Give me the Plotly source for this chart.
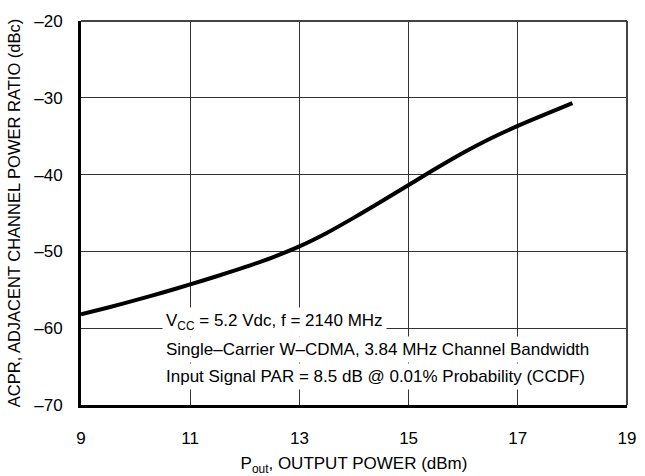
import plotly.graph_objects as go

# ACPR versus output power (single-carrier W-CDMA)
pout_dbm = [9, 9.5, 10, 10.5, 11, 11.5, 12, 12.5, 13, 13.5, 14, 14.5, 15, 15.5, 16, 16.5, 17, 17.5, 18]
acpr_dbc = [-58.2, -57.3, -56.35, -55.35, -54.3, -53.2, -52.05, -50.8, -49.35, -47.6, -45.6, -43.5,
            -41.35, -39.2, -37.15, -35.3, -33.65, -32.15, -30.7]

x_ticks = [9, 11, 13, 15, 17, 19]
y_ticks = [-70, -60, -50, -40, -30, -20]

condition_lines = [
    "V<sub>CC</sub> = 5.2 Vdc, f = 2140 MHz",
    "Single\u2013Carrier W\u2013CDMA, 3.84 MHz Channel Bandwidth",
    "Input Signal PAR = 8.5 dB @ 0.01% Probability (CCDF)",
]

FONT = "Liberation Sans, Arial, sans-serif"

fig = go.Figure()
fig.add_trace(go.Scatter(
    x=pout_dbm, y=acpr_dbc, mode="lines",
    line=dict(color="black", width=4, shape="spline", smoothing=0.8),
    showlegend=False, hoverinfo="skip",
))

axis_common = dict(
    showgrid=True, gridcolor="#333333", gridwidth=1, automargin=False,
    zeroline=False, ticks="", showline=True, linecolor="black", linewidth=3,
    tickfont=dict(family=FONT, size=17, color="black"),
)

fig.update_layout(
    width=645, height=476,
    margin=dict(l=81, r=18, t=21, b=71),
    paper_bgcolor="white", plot_bgcolor="white",
    font=dict(family=FONT, color="black"),
    xaxis=dict(range=[9, 19], tickvals=x_ticks, ticktext=[str(v) for v in x_ticks],
               ticklabelstandoff=16,
               title=dict(text="P<sub>out</sub>, OUTPUT POWER (dBm)",
                          font=dict(family=FONT, size=17), standoff=21),
               **axis_common),
    yaxis=dict(range=[-70, -20], tickvals=y_ticks, ticktext=[f"\u2013{abs(v)}" for v in y_ticks],
               ticklabelstandoff=12,
               title=dict(text="ACPR, ADJACENT CHANNEL POWER RATIO (dBc)",
                          font=dict(family=FONT, size=16.5), standoff=10),
               **axis_common),
)

# thin top and right frame edges
fig.add_shape(type="line", xref="paper", yref="paper", x0=0, x1=1, y0=1, y1=1,
              line=dict(color="#444444", width=2))
fig.add_shape(type="line", xref="paper", yref="paper", x0=1, x1=1, y0=0, y1=1,
              line=dict(color="#444444", width=2))

# operating conditions, each line on a white background
for i, txt in enumerate(condition_lines):
    fig.add_annotation(
        xref="x", yref="y", x=10.48, y=-59.2 - i * 3.52,
        text=txt, showarrow=False, xanchor="left", yanchor="middle",
        align="left", bgcolor="white", borderpad=3,
        font=dict(family=FONT, size=17, color="black"),
    )

fig.write_html("out.html")
